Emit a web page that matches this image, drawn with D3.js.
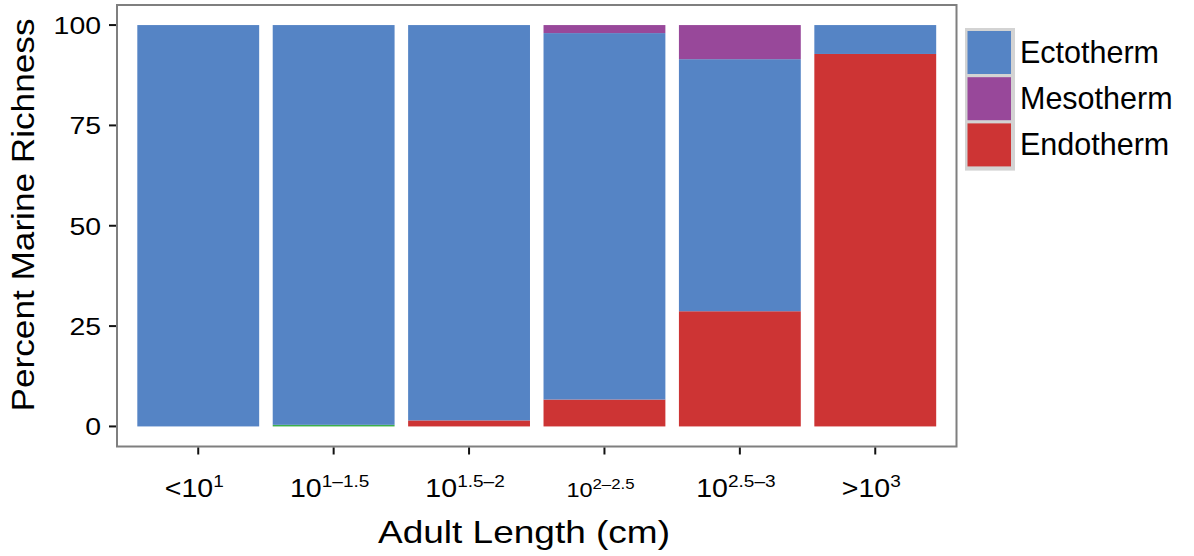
<!DOCTYPE html>
<html>
<head>
<meta charset="utf-8">
<script src="https://cdn.jsdelivr.net/npm/d3@7"></script>
<style>
  body { margin: 0; background: #fff; }
  text { font-family: "Liberation Sans", Arial, Helvetica, sans-serif; fill: #000; }
</style>
</head>
<body>
<div id="chart"></div>
<script>
// size classes along the x axis (base + superscript)
const categories = ["<10^1", "10^1-1.5", "10^1.5-2", "10^2-2.5", "10^2.5-3", ">10^3"];
const labelBase = ["<10", "10", "10", "10", "10", ">10"];
const labelSup = ["1", "1\u20131.5", "1.5\u20132", "2\u20132.5", "2.5\u20133", "3"];

// percent of marine richness per class
const other = [0, 0.4, 0, 0, 0, 0];
const endotherm = [0, 0, 1.5, 6.7, 28.7, 92.8];
const ectotherm = [100, 99.6, 98.5, 91.3, 62.8, 7.2];
const mesotherm = [0, 0, 0, 2.0, 8.5, 0];

const yTicks = [0, 25, 50, 75, 100];
const legendKeys = ["Ectotherm", "Mesotherm", "Endotherm"];

const colors = {
    Other: "#3caf4b",
    Endotherm: "#cd3434",
    Ectotherm: "#5584c5",
    Mesotherm: "#98489a"
};

const width = 1194;
const height = 556;
const panel = { left: 117, right: 956.5, top: 5, bottom: 446.5 };

const svg = d3.select("#chart")
    .append("svg")
    .attr("width", width)
    .attr("height", height);

// build rows for stacking
const rows = categories.map((c, i) => ({
    cat: c,
    Other: other[i],
    Endotherm: endotherm[i],
    Ectotherm: ectotherm[i],
    Mesotherm: mesotherm[i]
}));
const stackKeys = ["Other", "Endotherm", "Ectotherm", "Mesotherm"];
const series = d3.stack().keys(stackKeys)(rows);

const x = d3.scaleBand()
    .domain(categories)
    .range([panel.left, panel.right])
    .paddingInner(0.1)
    .paddingOuter(0.15);

const y = d3.scaleLinear()
    .domain([-5, 105])
    .range([panel.bottom, panel.top]);

// bars
svg.append("g")
    .selectAll("g")
    .data(series)
    .join("g")
    .attr("fill", d => colors[d.key])
    .selectAll("rect")
    .data(d => d.filter(v => v[1] - v[0] > 0))
    .join("rect")
    .attr("x", d => x(d.data.cat))
    .attr("width", x.bandwidth())
    .attr("y", d => y(d[1]))
    .attr("height", d => y(d[0]) - y(d[1]));

// panel border
svg.append("rect")
    .attr("x", panel.left)
    .attr("y", panel.top)
    .attr("width", panel.right - panel.left)
    .attr("height", panel.bottom - panel.top)
    .attr("fill", "none")
    .attr("stroke", "#7f7f7f")
    .attr("stroke-width", 2);

// y axis ticks + labels
const yAxis = svg.append("g");
yAxis.selectAll("line")
    .data(yTicks)
    .join("line")
    .attr("x1", panel.left - 8)
    .attr("x2", panel.left - 1)
    .attr("y1", d => y(d))
    .attr("y2", d => y(d))
    .attr("stroke", "#111")
    .attr("stroke-width", 2);
yAxis.selectAll("text")
    .data(yTicks)
    .join("text")
    .attr("transform", d => `translate(${panel.left - 16},${y(d) + 8.8}) scale(1.16,1)`)
    .attr("text-anchor", "end")
    .attr("font-size", 24.5)
    .text(d => d);

// x axis ticks + labels
const xAxis = svg.append("g");
xAxis.selectAll("line")
    .data(categories)
    .join("line")
    .attr("x1", d => x(d) + x.bandwidth() / 2)
    .attr("x2", d => x(d) + x.bandwidth() / 2)
    .attr("y1", panel.bottom + 1)
    .attr("y2", panel.bottom + 8)
    .attr("stroke", "#111")
    .attr("stroke-width", 2);
const xl = xAxis.selectAll("text")
    .data(categories)
    .join("text")
    .attr("transform", d => `translate(${x(d) + x.bandwidth() / 2 - 4},497) scale(1.12,1)`)
    .attr("text-anchor", "middle")
    .attr("font-size", (d, i) => i === 3 ? 21 : 25.5);
xl.append("tspan")
    .text((d, i) => labelBase[i]);
xl.append("tspan")
    .attr("dy", (d, i) => i === 3 ? -8 : -10)
    .attr("font-size", (d, i) => i === 3 ? 15 : 17)
    .text((d, i) => labelSup[i]);

// axis titles
svg.append("text")
    .attr("x", 524)
    .attr("y", 543)
    .attr("text-anchor", "middle")
    .attr("font-size", 30.5)
    .attr("textLength", 292)
    .attr("lengthAdjust", "spacingAndGlyphs")
    .text("Adult Length (cm)");

svg.append("text")
    .attr("transform", "translate(33.5,215) rotate(-90)")
    .attr("text-anchor", "middle")
    .attr("font-size", 31.5)
    .attr("textLength", 393)
    .attr("lengthAdjust", "spacingAndGlyphs")
    .text("Percent Marine Richness");

// legend
const legend = svg.append("g");
const keyTop = 31;
const keyStep = 46.2;
legend.append("rect")
    .attr("x", 965)
    .attr("y", keyTop - 3)
    .attr("width", 50)
    .attr("height", keyStep * 3 + 4)
    .attr("fill", "#d3d3d3");
legend.selectAll("rect.key")
    .data(legendKeys)
    .join("rect")
    .attr("class", "key")
    .attr("x", 967.5)
    .attr("y", (d, i) => keyTop + i * keyStep)
    .attr("width", 43.5)
    .attr("height", 43)
    .attr("fill", d => colors[d]);
legend.selectAll("text")
    .data(legendKeys)
    .join("text")
    .attr("x", 1020)
    .attr("y", (d, i) => keyTop + i * keyStep + 31.5)
    .attr("font-size", 30.5)
    .text(d => d);
</script>
</body>
</html>
